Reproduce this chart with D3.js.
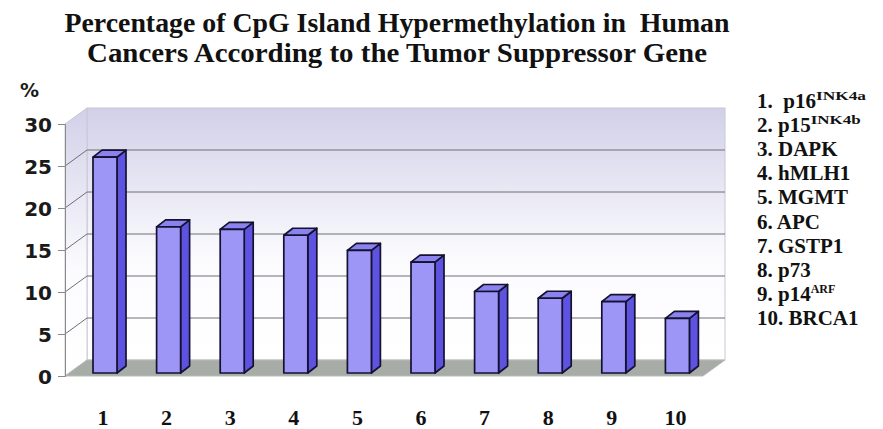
<!DOCTYPE html>
<html><head><meta charset="utf-8">
<script src="https://cdn.jsdelivr.net/npm/d3@7"></script>
<style>body{margin:0;background:#fff}svg{display:block}</style>
</head><body>
<svg id="c" width="883" height="429"></svg>
<script>
const categories = ["1","2","3","4","5","6","7","8","9","10"];
const values = [25.7, 17.4, 17.1, 16.4, 14.6, 13.2, 9.7, 8.9, 8.5, 6.5];
const yTicks = [0,5,10,15,20,25,30];
const legendMain = ["1.  p16","2. p15","3. DAPK","4. hMLH1","5. MGMT","6. APC","7. GSTP1","8. p73","9. p14","10. BRCA1"];
const legendSup = ["INK4a","INK4b","","","","","","","ARF",""];
const titleLines = ["Percentage of CpG Island Hypermethylation in  Human","Cancers According to the Tumor Suppressor Gene"];

const svg = d3.select("#c");
const X0 = 65, XR = 703, DX = 22, DY = -16;
const y = d3.scaleLinear().domain([0,30]).range([376,124]);
const x = d3.scaleBand().domain(categories).range([73,709]).padding(0);
const BW = 24, BDX = 9, BDY = -7, SX = 20, SY = -3;
const serif = "'Liberation Serif','Times New Roman',serif";
const sans = "'DejaVu Sans',Verdana,sans-serif";

const defs = svg.append("defs");
const g1 = defs.append("linearGradient").attr("id","wall").attr("x1",0).attr("y1",0).attr("x2",0).attr("y2",1);
g1.append("stop").attr("offset",0).attr("stop-color","#d2d0e8");
g1.append("stop").attr("offset",0.6).attr("stop-color","#fbfbfe");
g1.append("stop").attr("offset",1).attr("stop-color","#ffffff");

// back wall
svg.append("rect").attr("x",X0+DX).attr("y",y(30)+DY).attr("width",XR-X0).attr("height",y(0)-y(30))
  .attr("fill","url(#wall)").attr("stroke","#c8c8d4").attr("stroke-width",1);
// side wall
svg.append("polygon").attr("points",[[X0,y(30)],[X0+DX,y(30)+DY],[X0+DX,y(0)+DY],[X0,y(0)]].join(" "))
  .attr("fill","url(#wall)").attr("stroke","#c8c8d4").attr("stroke-width",1);
// floor
svg.append("polygon").attr("points",[[X0,y(0)],[XR,y(0)],[XR+DX,y(0)+DY],[X0+DX,y(0)+DY]].join(" "))
  .attr("fill","#a7aca7").attr("stroke","#b8bcb8").attr("stroke-width",1);

// gridlines
const grid = yTicks.filter(t=>t>0 && t<30);
svg.selectAll(".gb").data(grid).join("line").attr("x1",X0+DX).attr("x2",XR+DX)
  .attr("y1",d=>y(d)+DY).attr("y2",d=>y(d)+DY).attr("stroke","#6f6f78").attr("stroke-width",1);
svg.selectAll(".gs").data(grid).join("line").attr("x1",X0).attr("x2",X0+DX)
  .attr("y1",d=>y(d)).attr("y2",d=>y(d)+DY).attr("stroke","#6f6f78").attr("stroke-width",1);

// axis
const axis = d3.axisLeft(y).tickValues(yTicks).tickSize(7).tickPadding(6);
const ag = svg.append("g").attr("transform",`translate(${X0},0)`).call(axis);
ag.select(".domain").attr("stroke","#8a8a8a");
ag.selectAll(".tick line").attr("stroke","#8a8a8a");
ag.selectAll(".tick text").attr("font-family",sans).attr("font-weight","bold")
  .attr("font-size",20).attr("fill","#1a1a1a").attr("dy","0.36em");

svg.append("text").attr("x",20).attr("y",97).text("%")
  .attr("font-family",sans).attr("font-weight","bold").attr("font-size",19).attr("fill","#1a1a1a");

// bars
const bars = svg.selectAll(".bar").data(values).join("g");
bars.each(function(v,i){
  const g = d3.select(this);
  const bx = x(categories[i]) + SX, yt = y(v) + SY, yb = y(0) + SY;
  g.append("polygon").attr("points",[[bx+BW,yt],[bx+BW+BDX,yt+BDY],[bx+BW+BDX,yb+BDY],[bx+BW,yb]].join(" "))
    .attr("fill","#5d53e0");
  g.append("polygon").attr("points",[[bx,yt],[bx+BDX,yt+BDY],[bx+BW+BDX,yt+BDY],[bx+BW,yt]].join(" "))
    .attr("fill","#8a82ee");
  g.append("rect").attr("x",bx).attr("y",yt).attr("width",BW).attr("height",yb-yt).attr("fill","#9d96f7");
  g.selectAll("*").attr("stroke","#141230").attr("stroke-width",1.7).attr("stroke-linejoin","round");
});

// x labels
svg.selectAll(".xl").data(categories).join("text")
  .attr("x",d=>x(d)+SX+BW/2 - 2).attr("y",425).attr("text-anchor","middle").text(d=>d)
  .attr("font-family",serif).attr("font-weight","bold")
  .attr("font-size",22).attr("fill","#111");

// title
const tlen = [665, 620];
svg.selectAll(".tt").data(titleLines).join("text")
  .attr("x",397).attr("y",(d,i)=>32+i*30).attr("text-anchor","middle").text(d=>d)
  .style("white-space","pre")
  .attr("textLength",(d,i)=>tlen[i]).attr("lengthAdjust","spacingAndGlyphs")
  .attr("font-family",serif).attr("font-weight","bold")
  .attr("font-size",27).attr("fill","#111");

// legend
const lg = svg.selectAll(".lg").data(legendMain).join("text")
  .attr("x",757).attr("y",(d,i)=>108+i*24.1).style("white-space","pre")
  .attr("font-family",serif).attr("font-weight","bold")
  .attr("font-size",21).attr("fill","#111");
lg.append("tspan").text(d=>d);
lg.append("tspan").attr("dy",-8).attr("font-size",12)
  .attr("textLength",(d,i)=>legendSup[i].startsWith("INK") ? 50 : null)
  .attr("lengthAdjust","spacingAndGlyphs")
  .text((d,i)=>legendSup[i]);
</script>
</body></html>
